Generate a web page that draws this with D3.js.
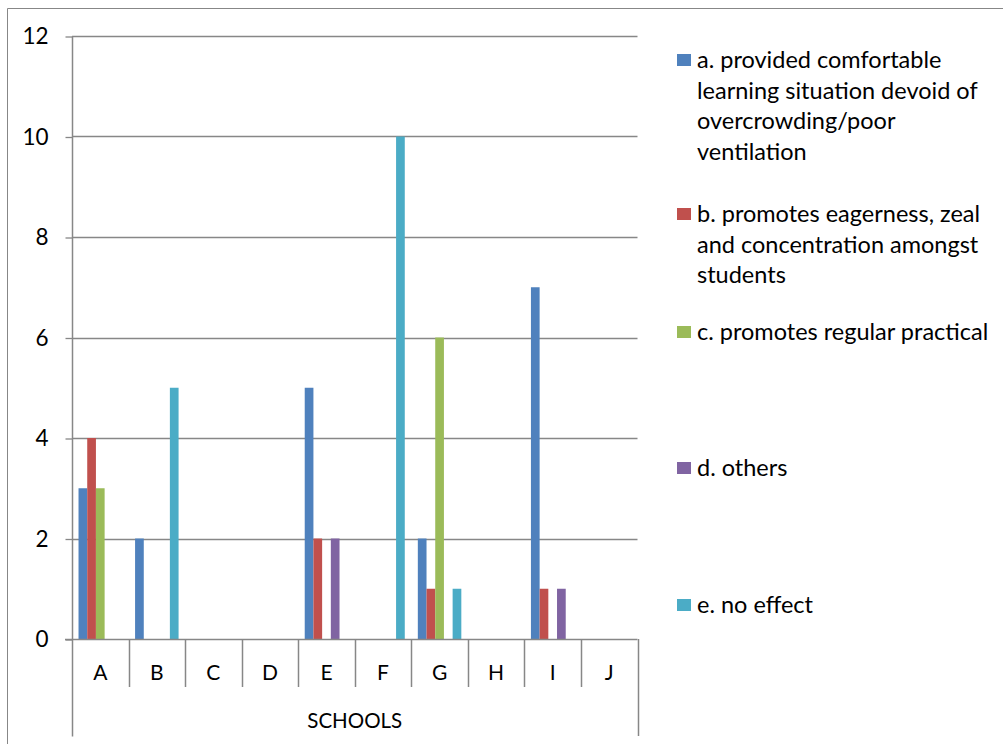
<!DOCTYPE html>
<html>
<head>
<meta charset="utf-8">
<script src="https://cdn.jsdelivr.net/npm/d3@7"></script>
<style>
  html, body { margin: 0; padding: 0; background: #fff; }
  svg { display: block; }
  text { font-family: Lato, "Open Sans", sans-serif; fill: #000; }
</style>
</head>
<body>
<svg id="chart" width="1003" height="744"></svg>
<script>
// Schools on the category axis
const schools = ["A", "B", "C", "D", "E", "F", "G", "H", "I", "J"];

// Responses per school, one array per answer option
const seriesA = [3, 2, 0, 0, 5, 0, 2, 0, 7, 0];
const seriesB = [4, 0, 0, 0, 2, 0, 1, 0, 1, 0];
const seriesC = [3, 0, 0, 0, 0, 0, 6, 0, 0, 0];
const seriesD = [0, 0, 0, 0, 2, 0, 0, 0, 1, 0];
const seriesE = [0, 5, 0, 0, 0, 10, 1, 0, 0, 0];

const seriesNames = [
  "a. provided comfortable learning situation devoid of overcrowding/poor ventilation",
  "b. promotes eagerness, zeal and concentration amongst students",
  "c. promotes regular practical",
  "d. others",
  "e. no effect"
];
// Legend text broken into the lines it is drawn on
const legendLines = [
  ["a. provided comfortable", "learning situation devoid of", "overcrowding/poor", "ventilation"],
  ["b. promotes eagerness, zeal", "and concentration amongst", "students"],
  ["c. promotes regular practical"],
  ["d. others"],
  ["e. no effect"]
];
const yTicks = [0, 2, 4, 6, 8, 10, 12];
const axisTitle = "SCHOOLS";

const colors = ["#4F81BD", "#C0504D", "#9BBB59", "#8064A2", "#4BACC6"];
const allSeries = [seriesA, seriesB, seriesC, seriesD, seriesE];

const svg = d3.select("#chart");
const gridColor = "#878787";

// outer chart frame (top and left edges)
svg.append("line").attr("x1", 7.5).attr("x2", 1003).attr("y1", 8.5).attr("y2", 8.5)
  .attr("stroke", gridColor).attr("stroke-width", 1);
svg.append("line").attr("x1", 7.5).attr("x2", 7.5).attr("y1", 8.5).attr("y2", 744)
  .attr("stroke", gridColor).attr("stroke-width", 1);

const plotLeft = 72, plotRight = 637.5, plotTop = 36, plotBottom = 639;

const x = d3.scaleBand().domain(schools).range([plotLeft, plotRight]).paddingInner(0).paddingOuter(0);
const y = d3.scaleLinear().domain([0, 12]).range([plotBottom, plotTop]);

// bar geometry: 5 bars with a 150% gap split around each group
const barW = x.bandwidth() / 6.5;
const xs = d3.scaleBand().domain(d3.range(5)).range([barW * 0.75, barW * 5.75]).padding(0);

// horizontal gridlines
svg.append("g").selectAll("line").data(yTicks.filter(t => t > 0)).join("line")
  .attr("x1", plotLeft).attr("x2", plotRight)
  .attr("y1", d => Math.round(y(d)) + 0.5).attr("y2", d => Math.round(y(d)) + 0.5)
  .attr("stroke", gridColor).attr("stroke-width", 1.3);

// y axis with ticks on the left
const yAxis = d3.axisLeft(y).tickValues(yTicks).tickSize(7).tickPadding(17).tickFormat(d3.format("d"));
const gy = svg.append("g").attr("transform", `translate(${plotLeft + 0.5},0.5)`).call(yAxis);
gy.select(".domain").remove();
gy.append("line").attr("x1", 0).attr("x2", 0).attr("y1", plotTop).attr("y2", 736)
  .attr("stroke", gridColor).attr("stroke-width", 1.5);
gy.selectAll(".tick line").attr("stroke", gridColor).attr("stroke-width", 1.3);
gy.selectAll(".tick text").attr("font-size", 22.5).attr("fill", "#000")
  .style("font-family", "Lato, sans-serif");

// bars
const groups = svg.append("g").selectAll("g").data(schools).join("g")
  .attr("transform", d => `translate(${x(d)},0)`);
groups.selectAll("rect")
  .data((d, i) => allSeries.map((s, k) => ({ k, v: s[i] })).filter(e => e.v > 0))
  .join("rect")
  .attr("x", d => xs(d.k))
  .attr("width", xs.bandwidth())
  .attr("y", d => y(d.v))
  .attr("height", d => y(0) - y(d.v))
  .attr("fill", d => colors[d.k]);

// category axis line
svg.append("line").attr("x1", 65).attr("x2", plotRight).attr("y1", plotBottom + 0.5).attr("y2", plotBottom + 0.5)
  .attr("stroke", gridColor).attr("stroke-width", 1.5);

// category separators (inner level) and outer level end
const bounds = schools.map(s => x(s)).concat([plotRight]);
svg.append("g").selectAll("line").data(bounds.slice(1)).join("line")
  .attr("x1", d => Math.round(d) + 0.5).attr("x2", d => Math.round(d) + 0.5)
  .attr("y1", plotBottom).attr("y2", (d, i) => i === bounds.length - 2 ? 736 : 687)
  .attr("stroke", gridColor).attr("stroke-width", 1.5);

// category labels
svg.append("g").selectAll("text").data(schools).join("text")
  .attr("x", d => x(d) + x.bandwidth() / 2)
  .attr("y", 680)
  .attr("text-anchor", "middle")
  .attr("font-size", 21)
  .text(d => d);

// axis title
svg.append("text")
  .attr("x", (plotLeft + plotRight) / 2)
  .attr("y", 728)
  .attr("text-anchor", "middle")
  .attr("font-size", 20.5)
  .text(axisTitle);

// legend
const legendTop = [60, 214, 332, 468, 605];
const lineGap = 30.5;
const legend = svg.append("g");
legendLines.forEach((lines, k) => {
  legend.append("rect")
    .attr("x", 677).attr("y", legendTop[k] - 6)
    .attr("width", 14).attr("height", 12)
    .attr("fill", colors[k]);
  const t = legend.append("text")
    .attr("x", 697).attr("y", legendTop[k] + 8)
    .attr("font-size", 23.5);
  lines.forEach((ln, j) => {
    t.append("tspan").attr("x", 697).attr("dy", j === 0 ? 0 : lineGap).text(ln);
  });
  t.append("title").text(seriesNames[k]);
});
</script>
</body>
</html>
